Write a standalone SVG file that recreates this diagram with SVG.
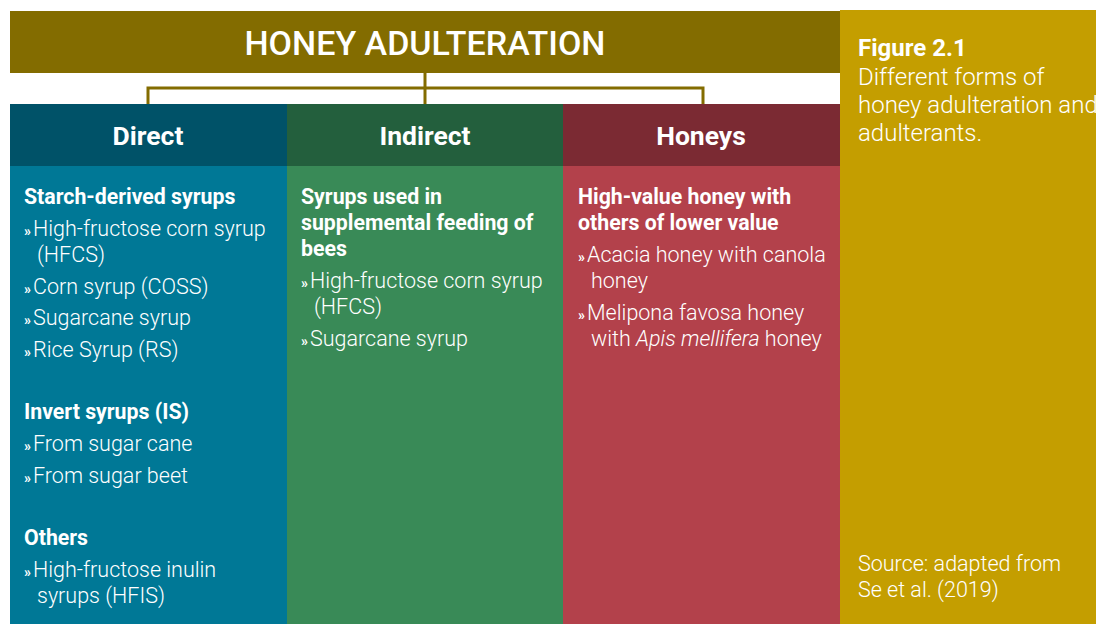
<svg xmlns="http://www.w3.org/2000/svg" width="1096" height="624" viewBox="0 0 1096 624">
<style>
text{font-family:Roboto,"Liberation Sans",sans-serif;fill:#fff}
.title{font-size:34px;font-weight:500;text-anchor:middle}
.hdr{font-size:26.5px;font-weight:700;text-anchor:middle}
.h{font-size:21.3px;font-weight:700}
.t{font-size:21.5px;font-weight:300}
.b{font-size:14px;font-weight:700}
.fig{font-size:24px;font-weight:700}
.cap{font-size:24px;font-weight:300}
.conn{fill:none;stroke:#836c00;stroke-width:3}
</style>
<rect width="1096" height="624" fill="#fff"/>
<g id="title">
<rect x="10" y="11" width="830" height="62" fill="#836c00"/>
<text class="title" x="425" y="55">HONEY ADULTERATION</text>
</g>
<g id="connectors">
<path class="conn" d="M425 73V104M148 104V88H703V104"/>
</g>
<g id="direct">
<rect x="10" y="104" width="277" height="62" fill="#005268"/>
<rect x="10" y="166" width="277" height="458" fill="#007896"/>
<text class="hdr" x="148" y="145">Direct</text>
<text class="h" x="24" y="204">Starch-derived syrups</text>
<text class="b" x="24" y="236">»</text><text class="t" x="33" y="236">High-fructose corn syrup</text>
<text class="t" x="37" y="262">(HFCS)</text>
<text class="b" x="24" y="294">»</text><text class="t" x="33" y="294">Corn syrup (COSS)</text>
<text class="b" x="24" y="325">»</text><text class="t" x="33" y="325">Sugarcane syrup</text>
<text class="b" x="24" y="357">»</text><text class="t" x="33" y="357">Rice Syrup (RS)</text>
<text class="h" x="24" y="419">Invert syrups (IS)</text>
<text class="b" x="24" y="451">»</text><text class="t" x="33" y="451">From sugar cane</text>
<text class="b" x="24" y="483">»</text><text class="t" x="33" y="483">From sugar beet</text>
<text class="h" x="24" y="545">Others</text>
<text class="b" x="24" y="577">»</text><text class="t" x="33" y="577">High-fructose inulin</text>
<text class="t" x="37" y="603">syrups (HFIS)</text>
</g>
<g id="indirect">
<rect x="287" y="104" width="276" height="62" fill="#235f3d"/>
<rect x="287" y="166" width="276" height="458" fill="#398a57"/>
<text class="hdr" x="425" y="145">Indirect</text>
<text class="h" x="301" y="204">Syrups used in</text>
<text class="h" x="301" y="230">supplemental feeding of</text>
<text class="h" x="301" y="256">bees</text>
<text class="b" x="301" y="288">»</text><text class="t" x="310" y="288">High-fructose corn syrup</text>
<text class="t" x="314" y="314">(HFCS)</text>
<text class="b" x="301" y="346">»</text><text class="t" x="310" y="346">Sugarcane syrup</text>
</g>
<g id="honeys">
<rect x="563" y="104" width="277" height="62" fill="#7b2a33"/>
<rect x="563" y="166" width="277" height="458" fill="#b3414b"/>
<text class="hdr" x="701" y="145">Honeys</text>
<text class="h" x="578" y="204">High-value honey with</text>
<text class="h" x="578" y="230">others of lower value</text>
<text class="b" x="578" y="262">»</text><text class="t" x="587" y="262">Acacia honey with canola</text>
<text class="t" x="591" y="288">honey</text>
<text class="b" x="578" y="320">»</text><text class="t" x="587" y="320">Melipona favosa honey</text>
<text class="t" x="591" y="346">with <tspan font-style="italic">Apis mellifera</tspan> honey</text>
</g>
<g id="caption">
<rect x="840" y="10" width="256" height="614" fill="#c49e00"/>
<text class="fig" x="858" y="56">Figure 2.1</text>
<text class="cap" x="858" y="85">Different forms of</text>
<text class="cap" x="858" y="113">honey adulteration and</text>
<text class="cap" x="858" y="141">adulterants.</text>
<text class="t" x="858" y="571">Source: adapted from</text>
<text class="t" x="858" y="597">Se et al. (2019)</text>
</g>
</svg>
